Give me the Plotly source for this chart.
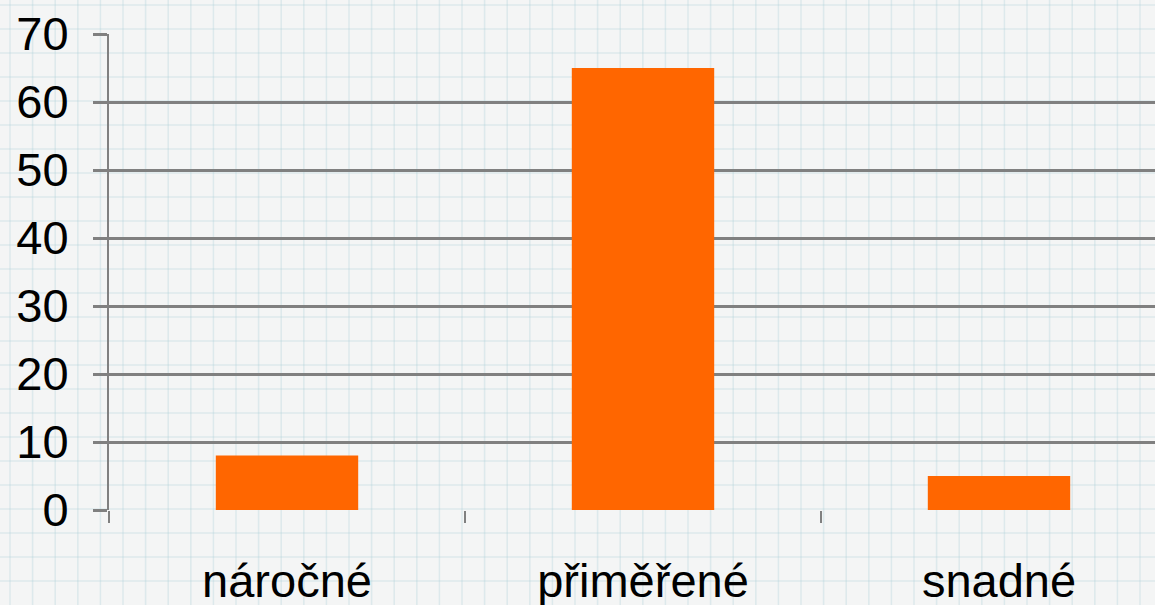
import plotly.graph_objects as go

# data
categories = ["náročné", "přiměřené", "snadné"]
values = [8, 65, 5]
y_ticks = [0, 10, 20, 30, 40, 50, 60, 70]

W, H = 1155, 605
L, R, T, B = 109, 0, 34, 95
plot_w = W - L - R
plot_h = H - T - B

fig = go.Figure()
fig.add_trace(go.Bar(x=categories, y=values, width=0.4,
                     marker={'color': '#FF6600', 'line': {'width': 0}}))

# graph paper background
shapes = []
def px_to_paper_x(px):
    return (px - L) / plot_w
def px_to_paper_y(py):
    return (H - B - py) / plot_h

grid_line = {'color': 'rgba(170,205,215,0.3)', 'width': 1.5}
gx = 10.0
while gx < W:
    shapes.append(dict(type='line', xref='paper', yref='paper', layer='below',
                       x0=px_to_paper_x(gx), x1=px_to_paper_x(gx),
                       y0=px_to_paper_y(0), y1=px_to_paper_y(H), line=grid_line))
    gx += 22.6
gy = 5.0
while gy < H:
    shapes.append(dict(type='line', xref='paper', yref='paper', layer='below',
                       x0=px_to_paper_x(0), x1=px_to_paper_x(W),
                       y0=px_to_paper_y(gy), y1=px_to_paper_y(gy), line=grid_line))
    gy += 24.0

# category axis range stretched so the last category runs past the right edge
cat_px = 356.0
x_max = -0.5 + plot_w / cat_px

font = {'family': 'Liberation Sans, Arial, sans-serif', 'size': 47, 'color': '#000000'}

fig.update_layout(
    width=W, height=H,
    margin={'l': L, 'r': R, 't': T, 'b': B, 'pad': 0, 'autoexpand': False},
    paper_bgcolor='#f4f5f5',
    plot_bgcolor='rgba(0,0,0,0)',
    showlegend=False,
    shapes=shapes,
    font=font,
    bargap=0.6,
    xaxis={'type': 'category', 'range': [-0.5, x_max],
           'showgrid': False, 'zeroline': False,
           'showline': False, 'automargin': False,
           'ticks': 'outside', 'tickson': 'boundaries', 'ticklen': 12,
           'tickwidth': 2, 'tickcolor': '#808080',
           'ticklabelstandoff': 39, 'tickfont': font},
    yaxis={'range': [0, 70], 'tickvals': y_ticks,
           'showgrid': True, 'gridcolor': '#808080', 'gridwidth': 2.5,
           'zeroline': False, 'automargin': False,
           'showline': True, 'linecolor': '#808080', 'linewidth': 2,
           'ticks': 'outside', 'ticklen': 14, 'tickwidth': 2.5, 'tickcolor': '#808080',
           'ticklabelstandoff': 15, 'tickfont': font},
)

fig.write_html("out.html", config={'displayModeBar': False},
               post_script="document.body.style.margin='0';document.body.style.background='#f4f5f5';")
